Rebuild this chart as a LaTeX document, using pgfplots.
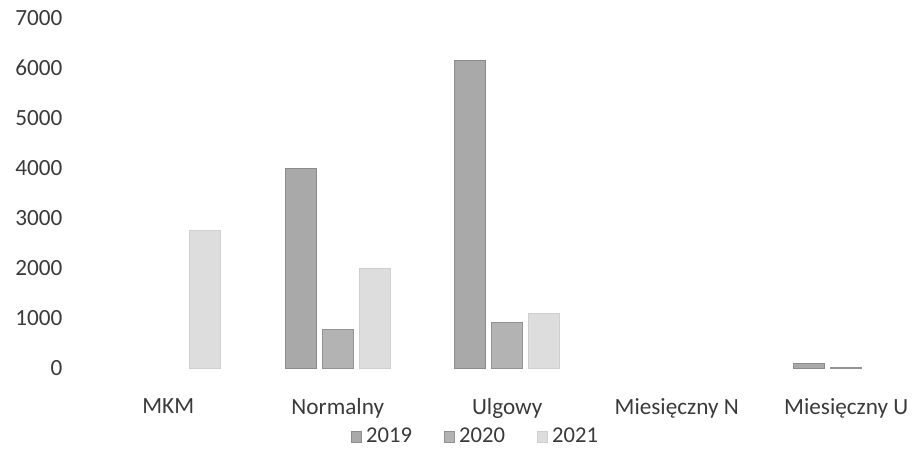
\documentclass[border=0pt]{standalone}
\usepackage{pgfplots}
\pgfplotsset{compat=1.18}
\usepackage{fontspec}
\setmainfont{Carlito}

\definecolor{txt}{HTML}{3A3A3A}
\definecolor{ga}{HTML}{A9A9A9}
\definecolor{gaedge}{HTML}{8C8C8C}
\definecolor{gb}{HTML}{B3B3B3}
\definecolor{gbedge}{HTML}{939393}
\definecolor{gc}{HTML}{DDDDDD}
\definecolor{gcedge}{HTML}{CFCFCF}

\begin{document}
\begin{tikzpicture}
% page frame: 916x468 px at 0.5pt per px, axis corner at (83.5px, 368px from top)
\path[use as bounding box] (-41.75pt,-50pt) rectangle (416.25pt,184pt);
\begin{axis}[
  scale only axis,
  width=406.8pt, height=175pt,
  xmin=-0.5, xmax=4.3,
  ymin=0, ymax=7000,
  ybar=3pt, bar width=15.5pt,
  axis line style={draw=none},
  tick style={draw=none},
  xtick={0,1,2,3,4},
  xticklabels={MKM, Normalny, Ulgowy, Miesięczny N, Miesięczny U},
  ytick={0,1000,...,7000},
  /pgf/number format/1000 sep={},
  /pgf/number format/assume math mode=true,
  ticklabel style={font=\fontsize{11.6}{13}\selectfont, text=txt},
  yticklabel style={xshift=-7pt},
  xticklabel style={yshift=-7.5pt},
  legend style={at={(0.483,-0.197)}, anchor=center, draw=none,
    font=\fontsize{11.3}{13}\selectfont, text=txt,
    legend columns=3,
    /tikz/every even column/.append style={column sep=14pt}},
  legend image code/.code={\draw[#1] (0pt,-2.6pt) rectangle (5.2pt,2.6pt);},
]
\addplot[fill=ga, draw=gaedge] coordinates {(1,4000) (2,6150) (4,100)};
\addplot[fill=gb, draw=gbedge] coordinates {(1,780) (2,920) (4,20)};
\addplot[fill=gc, draw=gcedge] coordinates {(0,2760) (1,2000) (2,1100)};
\legend{2019, 2020, 2021}
\end{axis}
\end{tikzpicture}
\end{document}
